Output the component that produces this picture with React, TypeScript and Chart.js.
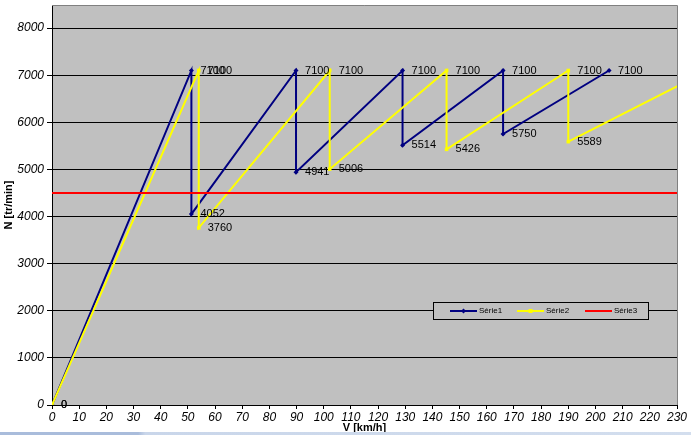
import React, { useEffect, useRef } from "react";
import { Chart, registerables } from "chart.js";

Chart.register(...registerables);

const FONT = "Arial, 'Liberation Sans', sans-serif";

// Série1 (navy) : speed [km/h] and engine speed [tr/min]
const serie1V = [0, 51.3, 51.3, 89.8, 89.8, 129, 129, 166, 166, 205];
const serie1N = [0, 7100, 4052, 7100, 4941, 7100, 5514, 7100, 5750, 7100];

// Série2 (yellow)
const serie2V = [0, 54, 54, 102.2, 102.2, 145.2, 145.2, 190, 190, 241.4];
const serie2N = [0, 7100, 3760, 7100, 5006, 7100, 5426, 7100, 5589, 7100];

// Série3 (red) horizontal limit
const serie3V = [0, 230];
const serie3N = [4500, 4500];

const xTicks = [0, 10, 20, 30, 40, 50, 60, 70, 80, 90, 100, 110, 120, 130, 140, 150, 160, 170, 180, 190, 200, 210, 220, 230];
const yTicks = [0, 1000, 2000, 3000, 4000, 5000, 6000, 7000, 8000];
const legendNames = ["Série1", "Série2", "Série3"];

const NAVY = "#000080";
const YELLOW = "#FFFF00";
const RED = "#FF0000";

const toPoints = (xs: number[], ys: number[]) => xs.map((x, i) => ({ x, y: ys[i] }));

const decorPlugin = {
  id: "decor",
  beforeDraw(chart: any) {
    const { ctx, chartArea } = chart;
    ctx.save();
    ctx.fillStyle = "#C0C0C0";
    ctx.fillRect(chartArea.left, chartArea.top, chartArea.right - chartArea.left, chartArea.bottom - chartArea.top);
    ctx.restore();
  },
  afterDatasetsDraw(chart: any) {
    const { ctx } = chart;
    const xs = chart.scales.x;
    ctx.save();
    ctx.font = `11px ${FONT}`;
    ctx.fillStyle = "#000";
    ctx.textAlign = "left";
    ctx.textBaseline = "middle";
    [0, 1].forEach((di) => {
      const meta = chart.getDatasetMeta(di);
      const data = chart.data.datasets[di].data as any[];
      meta.data.forEach((el: any, i: number) => {
        const d = data[i];
        if (d.x > xs.max || d.x < xs.min) return;
        ctx.fillText(String(d.y), el.x + 9, el.y);
      });
    });
    ctx.restore();
  },
  afterDraw(chart: any) {
    const { ctx, chartArea } = chart;
    ctx.save();
    // grey frame top/right
    ctx.strokeStyle = "#808080";
    ctx.lineWidth = 1;
    ctx.beginPath();
    ctx.moveTo(chartArea.left, chartArea.top + 0.5);
    ctx.lineTo(chartArea.right + 0.5, chartArea.top + 0.5);
    ctx.lineTo(chartArea.right + 0.5, chartArea.bottom);
    ctx.stroke();

    // legend
    const lx = 433, ly = 302, lw = 215, lh = 17;
    ctx.fillStyle = "#C0C0C0";
    ctx.fillRect(lx, ly, lw, lh);
    ctx.strokeStyle = "#000";
    ctx.strokeRect(lx + 0.5, ly + 0.5, lw, lh);
    const cy = ly + lh / 2 + 0.5;
    const items = [
      { c: NAVY, x: 450, m: "diamond" },
      { c: YELLOW, x: 517, m: "square" },
      { c: RED, x: 585, m: "" },
    ];
    items.forEach((it, i) => {
      ctx.strokeStyle = it.c;
      ctx.lineWidth = 2;
      ctx.beginPath();
      ctx.moveTo(it.x, cy);
      ctx.lineTo(it.x + 27, cy);
      ctx.stroke();
      const mx = it.x + 13.5;
      ctx.fillStyle = it.c;
      if (it.m === "diamond") {
        ctx.beginPath();
        ctx.moveTo(mx, cy - 2.5);
        ctx.lineTo(mx + 2.5, cy);
        ctx.lineTo(mx, cy + 2.5);
        ctx.lineTo(mx - 2.5, cy);
        ctx.closePath();
        ctx.fill();
      } else if (it.m === "square") {
        ctx.fillRect(mx - 2, cy - 2, 4, 4);
      }
      ctx.fillStyle = "#000";
      ctx.font = `8px ${FONT}`;
      ctx.textAlign = "left";
      ctx.textBaseline = "middle";
      ctx.fillText(legendNames[i], it.x + 29, cy);
    });

    // bottom window strip
    const g = ctx.createLinearGradient(0, 0, 691, 0);
    g.addColorStop(0, "#A9BCDB");
    g.addColorStop(0.2, "#A9BCDB");
    g.addColorStop(0.21, "#C9D6EA");
    g.addColorStop(1, "#D3DEEE");
    ctx.fillStyle = g;
    ctx.fillRect(0, 432, 691, 3);
    ctx.restore();
  },
};

export default function App() {
  const ref = useRef<HTMLCanvasElement | null>(null);

  useEffect(() => {
    if (!ref.current) return;
    const chart = new Chart(ref.current, {
      type: "line",
      data: {
        datasets: [
          {
            label: legendNames[0],
            data: toPoints(serie1V, serie1N),
            borderColor: NAVY,
            backgroundColor: NAVY,
            borderWidth: 2,
            pointStyle: "rectRot",
            pointRadius: 2.5,
            pointBorderWidth: 0,
            tension: 0,
            order: 2,
          },
          {
            label: legendNames[1],
            data: toPoints(serie2V, serie2N),
            borderColor: YELLOW,
            backgroundColor: YELLOW,
            borderWidth: 2,
            pointStyle: "rect",
            pointRadius: 2.5,
            pointBorderWidth: 0,
            tension: 0,
            order: 1,
          },
          {
            label: legendNames[2],
            data: toPoints(serie3V, serie3N),
            borderColor: RED,
            backgroundColor: RED,
            borderWidth: 2,
            pointRadius: 0,
            tension: 0,
            order: 0,
          },
        ],
      },
      options: {
        responsive: false,
        animation: false,
        devicePixelRatio: 1,
        layout: { padding: { top: 5, right: 14, left: 0, bottom: 0 } },
        plugins: {
          legend: { display: false },
          tooltip: { enabled: false },
        },
        scales: {
          x: {
            type: "linear",
            min: 0,
            max: 230,
            afterBuildTicks: (s: any) => {
              s.ticks = xTicks.map((v) => ({ value: v }));
            },
            afterFit: (s: any) => {
              s.height = 30;
              s.paddingLeft = 0;
              s.paddingRight = 0;
            },
            grid: { drawOnChartArea: false, color: "#000", tickLength: 4 },
            border: { color: "#000", width: 1 },
            ticks: {
              autoSkip: false,
              maxRotation: 0,
              padding: 1,
              color: "#000",
              font: { family: FONT, size: 12, style: "italic" },
              callback: (v: any) => String(v),
            },
            title: {
              display: true,
              text: "V [km/h]",
              color: "#000",
              font: { family: FONT, size: 11, weight: "bold" },
              padding: { top: 0, bottom: 0 },
            },
          },
          y: {
            type: "linear",
            min: 0,
            max: 8490,
            afterBuildTicks: (s: any) => {
              s.ticks = yTicks.map((v) => ({ value: v }));
            },
            afterFit: (s: any) => {
              s.width = 52;
              s.paddingTop = 0;
              s.paddingBottom = 0;
            },
            grid: { color: "#000", lineWidth: 1, tickLength: 5 },
            border: { color: "#000", width: 1 },
            ticks: {
              autoSkip: false,
              padding: 3,
              color: "#000",
              font: { family: FONT, size: 12, style: "italic" },
              callback: (v: any) => String(v),
            },
            title: {
              display: true,
              text: "N [tr/min]",
              color: "#000",
              font: { family: FONT, size: 11, weight: "bold" },
              padding: { top: 2, bottom: 0 },
            },
          },
        },
      },
      plugins: [decorPlugin],
    } as any);
    return () => chart.destroy();
  }, []);

  return (
    <div style={{ position: "absolute", left: 0, top: 0, width: 691, height: 435, background: "#fff" }}>
      <canvas ref={ref} width={691} height={435} style={{ display: "block" }} />
    </div>
  );
}
